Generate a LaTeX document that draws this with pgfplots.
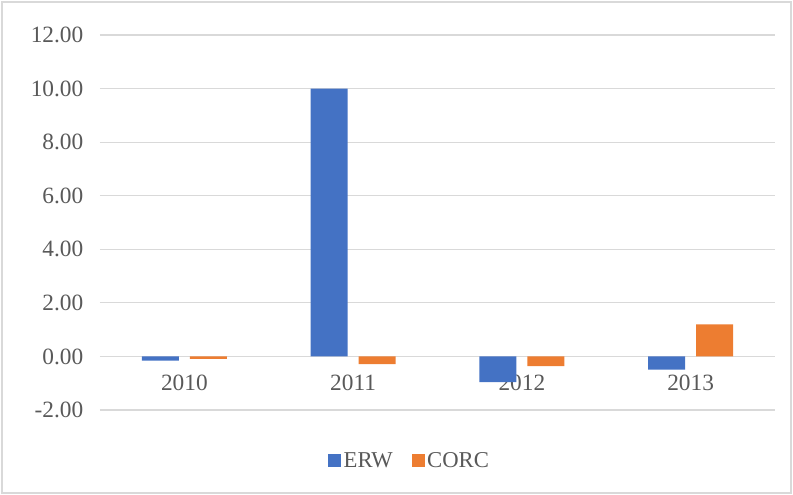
\documentclass[border=0pt]{standalone}
\usepackage{fontspec}
\setmainfont{Liberation Serif}
\usepackage{pgfplots}
\pgfplotsset{compat=1.18}
\definecolor{erw}{HTML}{4472C4}
\definecolor{corc}{HTML}{ED7D31}
\definecolor{gridc}{HTML}{D9D9D9}
\definecolor{txt}{HTML}{595959}
\begin{document}
\begin{tikzpicture}
\path[use as bounding box] (-75pt,-63.75pt) rectangle (519.75pt,307.5pt);
\draw[gridc,line width=0.8pt] (-73.5pt,-62.25pt) rectangle (518.25pt,306pt);
\begin{axis}[
  at={(0pt,0pt)}, anchor=south west,
  scale only axis, width=506.25pt, height=281.25pt,
  ymin=-2, ymax=12, xmin=-0.5, xmax=3.5,
  ytick={-2,0,2,4,6,8,10,12},
  xtick={0,1,2,3}, xticklabels={2010,2011,2012,2013},
  ymajorgrids, grid style={gridc, line width=0.9pt},
  axis line style={draw=none},
  major tick length=0pt,
  font=\fontsize{17.5}{20}\selectfont,
  tick label style={text=txt},
  /pgf/number format/.cd, fixed, fixed zerofill, precision=2, assume math mode=true,
  /pgfplots/.cd,
  yticklabel style={xshift=-9pt},
  xticklabel style={yshift=30pt},
  ybar, bar width=27.75pt,
  legend style={at={(0.459,0)}, anchor=center, yshift=-38pt, draw=none,
    font=\fontsize{17}{20}\selectfont, text=txt, legend columns=2,
    /tikz/every even column/.append style={column sep=12pt}},
  legend image code/.code={\fill[#1,draw=none] (0pt,-4.9pt) rectangle (9.75pt,4.9pt);},
]
\addplot[fill=erw, draw=none, bar shift=-18pt] coordinates {(0,-0.16) (1,10.0) (2,-0.96) (3,-0.49)};
\addplot[fill=corc, draw=none, bar shift=18pt] coordinates {(0,-0.09) (1,-0.29) (2,-0.36) (3,1.20)};
\legend{ERW,CORC}
\end{axis}
\end{tikzpicture}
\end{document}
